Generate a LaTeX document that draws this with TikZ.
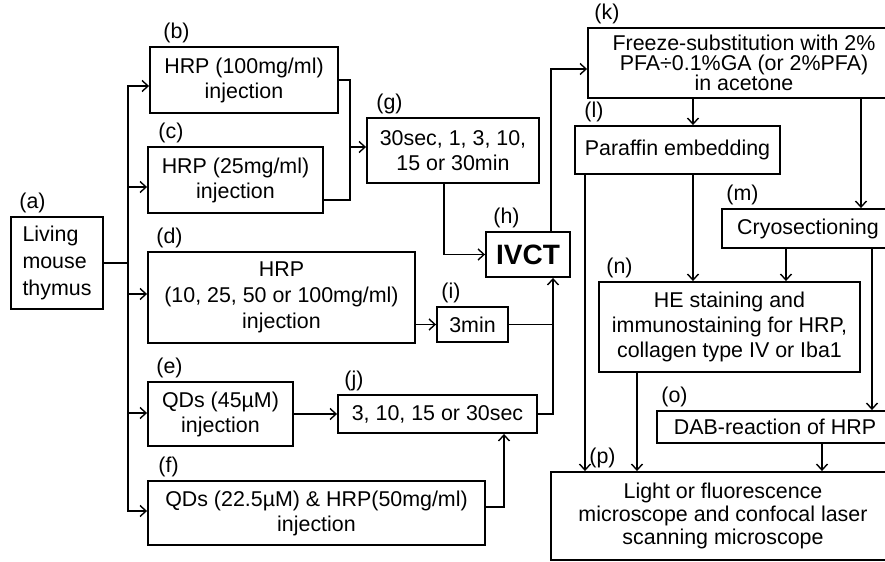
\documentclass[tikz,border=0pt]{standalone}
\usepackage{fontspec}
\setmainfont{Liberation Sans}
\usetikzlibrary{arrows.meta}
\begin{document}
\begin{tikzpicture}[x=0.5pt,y=-0.5pt,
  box/.style={draw,line width=0.95pt,inner sep=0pt,align=center,
    font=\fontsize{10.7}{12.5}\selectfont},
  tag/.style={anchor=south west,inner sep=1pt,yshift=0.5pt,
    font=\fontsize{10.7}{12}\selectfont},
  link/.style={line width=0.7pt},
  >={Straight Barb[length=3pt,width=5.5pt]}]
  \useasboundingbox (0,0) rectangle (885,562);
  \clip (0,0) rectangle (885,562);
  % boxes
  \node[box,minimum width=46pt,minimum height=46pt,align=left,
    font=\fontsize{10.7}{13.5}\selectfont] (a) at (57,263) {Living\\mouse\\thymus};
  \node[box,minimum width=94pt,minimum height=33pt] (b) at (244,80) {HRP (100mg/ml)\\injection};
  \node[box,minimum width=87.5pt,minimum height=33pt] (c) at (235.5,180) {HRP (25mg/ml)\\injection};
  \node[box,minimum width=133.5pt,minimum height=45.5pt,
    font=\fontsize{10.7}{13}\selectfont] (d) at (281.5,297.5) {HRP\\(10, 25, 50 or 100mg/ml)\\injection};
  \node[box,minimum width=72.5pt,minimum height=32pt] (e) at (220.5,414) {QDs (45µM)\\injection};
  \node[box,minimum width=168.5pt,minimum height=32pt] (f) at (316.5,513) {QDs (22.5µM) \& HRP(50mg/ml)\\injection};
  \node[box,minimum width=86pt,minimum height=32.5pt] (g) at (453,150.5) {30sec, 1, 3, 10,\\15 or 30min};
  \node[box,minimum width=42pt,minimum height=22.5pt,
    font=\fontsize{14}{16}\selectfont\bfseries] (h) at (528,254.5) {IVCT};
  \node[box,minimum width=35.5pt,minimum height=17.5pt] (i) at (472.5,324.5) {3min};
  \node[box,minimum width=99.5pt,minimum height=19pt] (j) at (437.5,414) {3, 10, 15 or 30sec};
  \node[box,minimum width=156pt,minimum height=35pt,
    font=\fontsize{10.7}{10}\selectfont] (k) at (744,63) {Freeze-substitution with 2\%\\PFA÷0.1\%GA (or 2\%PFA)\\in acetone};
  \node[box,minimum width=102.5pt,minimum height=24pt] (l) at (677.5,150) {Paraffin embedding};
  \node[box,minimum width=86pt,minimum height=19.5pt] (m) at (808,228.5) {Cryosectioning};
  \node[box,minimum width=130.5pt,minimum height=45pt] (n) at (729.5,327) {HE staining and\\immunostaining for HRP,\\collagen type IV or Iba1};
  \node[box,minimum width=118pt,minimum height=16pt] (o) at (775,427) {DAB-reaction of HRP};
  \node[box,minimum width=172pt,minimum height=44pt,
    font=\fontsize{10.7}{11.5}\selectfont] (p) at (723,516) {Light or fluorescence\\microscope and confocal laser\\scanning microscope};
  % tags
  \node[tag] (ta) at ([xshift=3.5pt]a.north west) {(a)};
  \node[tag] (tb) at ([xshift=6pt]b.north west) {(b)};
  \node[tag] (tc) at ([xshift=4.5pt]c.north west) {(c)};
  \node[tag] (td) at ([xshift=3.5pt]d.north west) {(d)};
  \node[tag] (te) at ([xshift=3.5pt]e.north west) {(e)};
  \node[tag] (tf) at ([xshift=4.5pt]f.north west) {(f)};
  \node[tag] (tg) at ([xshift=4pt]g.north west) {(g)};
  \node[tag] (th) at ([xshift=3pt]h.north west) {(h)};
  \node[tag] (ti) at ([xshift=1.5pt]i.north west) {(i)};
  \node[tag] (tj) at ([xshift=2.5pt]j.north west) {(j)};
  \node[tag] (tk) at ([xshift=2.5pt]k.north west) {(k)};
  \node[tag] (tl) at ([xshift=4pt]l.north west) {(l)};
  \node[tag] (tm) at ([xshift=1.5pt]m.north west) {(m)};
  \node[tag] (tn) at ([xshift=3pt]n.north west) {(n)};
  \node[tag] (to) at ([xshift=1.5pt]o.north west) {(o)};
  \node[tag] (tp) at ([xshift=18.5pt]p.north west) {(p)};
  % junctions
  \coordinate (trT) at (128,86);
  \coordinate (trB) at (128,511);
  \coordinate (jbc) at (350,147);
  \coordinate (hin) at ([xshift=12.5pt]h.south);
  \coordinate (xkl) at (693,0);
  \coordinate (xkm) at (861,0);
  \coordinate (xlp) at (585,0);
  \coordinate (xmn) at (786,0);
  \coordinate (xmo) at (872,0);
  \coordinate (xnp) at (637,0);
  \coordinate (xop) at (822,0);
  % left trunk
  \draw[link] (a.east) -- (a.east -| trT);
  \draw[link] (trT) -- (trB);
  \foreach \n/\s/\d in {b/-3/22,c/-3.5/20,d/1.75/20,e/0.5/20,f/1/20}
    \draw[link,->] ([yshift=\s pt]\n.west) ++(-\d,0) -- ([yshift=\s pt]\n.west);
  % to IVCT
  \draw[link] (b.east) -| (jbc);
  \draw[link] ([yshift=-10pt]c.east) -| (jbc);
  \draw[link,->] (jbc) -- (jbc -| g.west);
  \draw[link,->] ([xshift=-4.5pt]g.south) |- (h.west);
  \draw[link,->] (d.east |- i.west) -- (i.west);
  \draw[link] (i.east) -- (i.east -| hin);
  \draw[link,->] (e.east) -- (e.east -| j.west);
  \draw[link,->] ([yshift=3pt]f.east) -| ([xshift=33.25pt]j.south);
  \draw[link,->] (j.east) -| (hin);
  \draw[link,->] ([xshift=11.5pt]h.north) |- ([yshift=-3pt]k.west);
  % right column
  \draw[link,->] (xkl |- k.south) -- (xkl |- l.north);
  \draw[link,->] (xkm |- k.south) -- (xkm |- m.north);
  \draw[link,->] (xkl |- l.south) -- (xkl |- n.north);
  \draw[link,->] (xlp |- l.south) -- (xlp |- p.north);
  \draw[link,->] (xmn |- m.south) -- (xmn |- n.north);
  \draw[link,->] (xmo |- m.south) -- (xmo |- o.north);
  \draw[link,->] (xnp |- n.south) -- (xnp |- p.north);
  \draw[link,->] (xop |- o.south) -- (xop |- p.north);
\end{tikzpicture}
\end{document}
